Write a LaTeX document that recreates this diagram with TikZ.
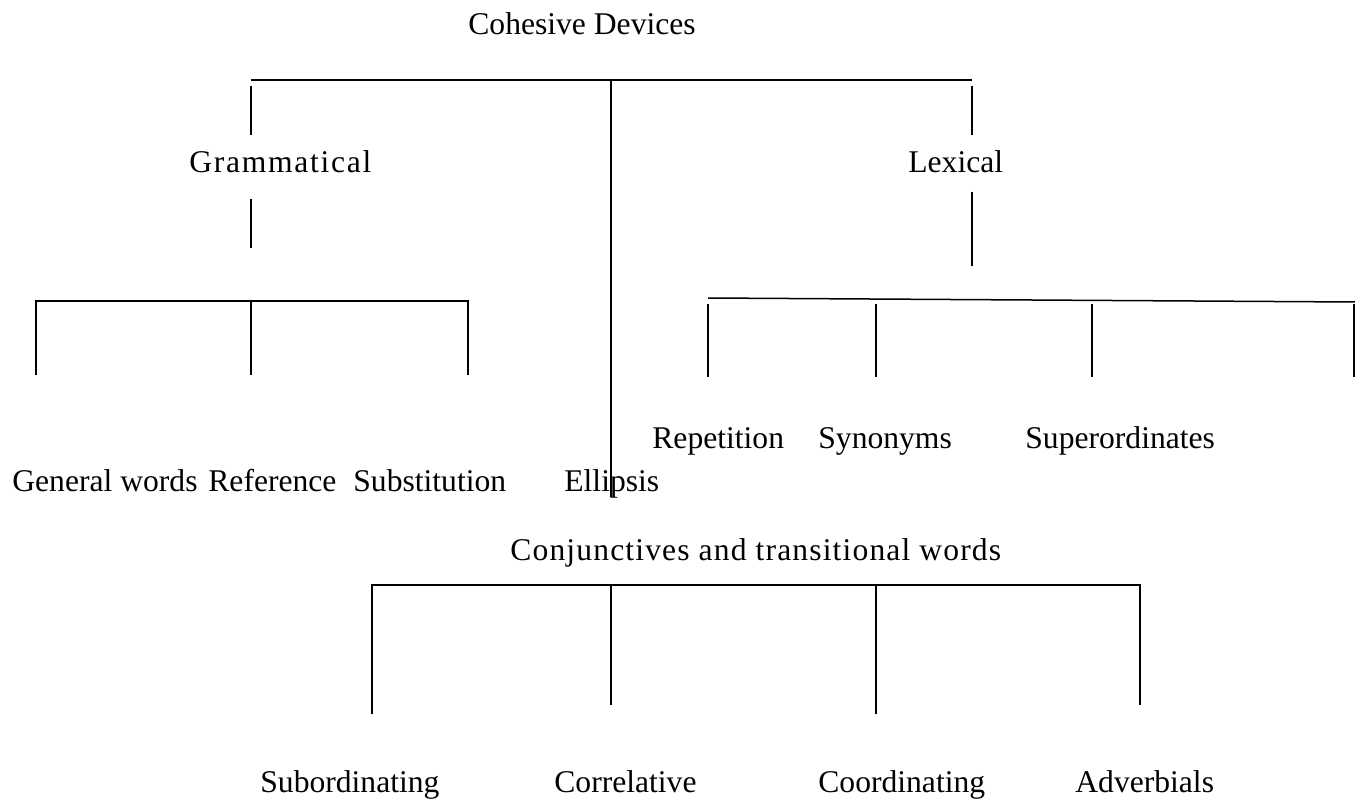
\documentclass[tikz,border=0pt]{standalone}
\usepackage{fontspec}
\setmainfont{Liberation Serif}
\usetikzlibrary{positioning}
\tikzset{
  lbl/.style={font=\fontsize{15.8}{19}\selectfont,inner sep=0pt,anchor=base west},
  spaced/.style={lbl,font=\fontsize{15.8}{19}\selectfont\addfontfeatures{LetterSpace=#1}},
  ln/.style={draw=black,line width=0.75pt},
}
\begin{document}
\begin{tikzpicture}[x=0.5pt,y=-0.5pt]
\useasboundingbox (0,0) rectangle (1355,802);
% labels
\node[lbl] (cd) at (468,35) {Cohesive Devices};
\node[spaced=5.4] (gram) at (189,173) {Grammatical};
\node[lbl] (lex) at (908,173) {Lexical};
\node[lbl] (gw) at (12,491) {General words};
\node[lbl] (ref) at (208,491) {Reference};
\node[lbl] (subst) at (353,491) {Substitution};
\node[lbl] (ell) at (564,491) {Ellipsis};
\node[lbl] (rep) at (652,448) {Repetition};
\node[lbl] (syn) at (818,448) {Synonyms};
\node[lbl] (supo) at (1025,448) {Superordinates};
\node[spaced=3.6] (conj) at (510,560) {Conjunctives and transitional words};
\node[lbl] (subo) at (260,792) {Subordinating};
\node[lbl] (corr) at (554,792) {Correlative};
\node[lbl] (coor) at (818,792) {Coordinating};
\node[lbl] (adv) at (1075,792) {Adverbials};
% top bar and ellipsis
\coordinate (top-l) at (251,80); \coordinate (top-m) at (611,80); \coordinate (top-r) at (972,80);
\coordinate (ell-end) at (611,497);
\draw[ln] (top-l) -- (top-r);
\draw[ln] (top-m) -- (ell-end);
% grammatical branch
\coordinate (g1) at (251,86); \coordinate (g2) at (251,135);
\coordinate (g3) at (251,199); \coordinate (g4) at (251,248);
\draw[ln] (g1) -- (g2);
\draw[ln] (g3) -- (g4);
\coordinate (gb1) at (36,301); \coordinate (gb2) at (251,301); \coordinate (gb3) at (468,301);
\coordinate (gv1) at (36,375); \coordinate (gv2) at (251,375); \coordinate (gv3) at (468,375);
\draw[ln] (gv1) -- (gb1) -- (gb3) -- (gv3);
\draw[ln] (gb2) -- (gv2);
% lexical branch
\coordinate (l1) at (972,86); \coordinate (l2) at (972,135);
\coordinate (l3) at (972,192); \coordinate (l4) at (972,266);
\draw[ln] (l1) -- (l2);
\draw[ln] (l3) -- (l4);
\coordinate (lb-l) at (708,298); \coordinate (lb-r) at (1355,302);
\draw[ln] (lb-l) -- (lb-r);
\coordinate (la1) at (708,304); \coordinate (lv1) at (708,377);
\coordinate (la2) at (876,304); \coordinate (lv2) at (876,377);
\coordinate (la3) at (1092,304); \coordinate (lv3) at (1092,377);
\coordinate (la4) at (1354,304); \coordinate (lv4) at (1354,377);
\draw[ln] (la1) -- (lv1);
\draw[ln] (la2) -- (lv2);
\draw[ln] (la3) -- (lv3);
\draw[ln] (la4) -- (lv4);
% conjunctives branch
\coordinate (cb1) at (372,585); \coordinate (cb2) at (611,585);
\coordinate (cb3) at (876,585); \coordinate (cb4) at (1140,585);
\coordinate (cv1) at (372,714); \coordinate (cv2) at (611,705);
\coordinate (cv3) at (876,714); \coordinate (cv4) at (1140,705);
\draw[ln] (cv1) -- (cb1) -- (cb4) -- (cv4);
\draw[ln] (cb2) -- (cv2);
\draw[ln] (cb3) -- (cv3);
\end{tikzpicture}
\end{document}
